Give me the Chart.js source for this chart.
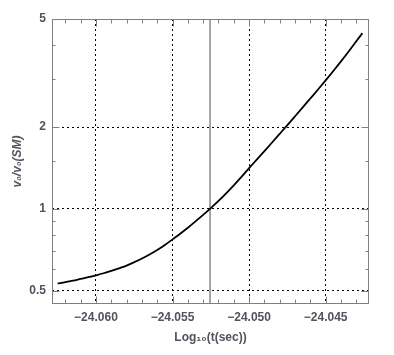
<!DOCTYPE html>
<html><head><meta charset="utf-8">
<script src="https://cdn.jsdelivr.net/npm/chart.js@4.4.0/dist/chart.umd.min.js"></script>
<style>html,body{margin:0;padding:0;background:#fff}#wrap{width:394px;height:355px;position:relative}</style>
</head><body><div id="wrap"><canvas id="c"></canvas></div>
<script>
const logTime = [-24.0625,-24.0620,-24.0615,-24.0610,-24.0605,-24.0600,-24.0595,-24.0590,-24.0585,-24.0580,
  -24.0575,-24.0570,-24.0565,-24.0560,-24.0555,-24.0550,-24.0545,-24.0540,-24.0535,-24.0530,
  -24.0525,-24.0520,-24.0515,-24.0510,-24.0505,-24.0500,-24.0495,-24.0490,-24.0485,-24.0480,
  -24.0475,-24.0470,-24.0465,-24.0460,-24.0455,-24.0450,-24.0445,-24.0440,-24.0435,-24.0430,-24.0426];
const ratio = [0.532,0.538,0.545,0.553,0.561,0.570,0.580,0.592,0.605,0.619,
  0.637,0.657,0.680,0.706,0.737,0.773,0.811,0.853,0.900,0.951,
  1.007,1.070,1.142,1.222,1.312,1.413,1.519,1.633,1.756,1.890,
  2.035,2.193,2.364,2.550,2.751,2.972,3.218,3.491,3.798,4.140,4.436];
const xTicks = [-24.060,-24.055,-24.050,-24.045];
const xMinorTicks = [-24.062,-24.061,-24.059,-24.058,-24.057,-24.056,-24.054,-24.053,-24.052,-24.051,-24.049,-24.048,-24.047,-24.046,-24.044,-24.043];
const yTicks = [0.5,1,2,5];
const yMinorTicks = [0.6,0.7,0.8,0.9,1.5,3,4];
const markerTime = -24.05255;
const xRange = [-24.06287,-24.04217];
const yRange = [0.447,5];

const labelColor = '#52535d';
const frameColor = '#808080';

const framePlugin = {
  id: 'frame',
  afterDraw(chart) {
    const {ctx, chartArea: a, scales: {x, y}} = chart;
    ctx.save();
    ctx.strokeStyle = frameColor;
    ctx.lineWidth = 1;
    const L = Math.round(a.left) + 0.5, R = Math.round(a.right) - 0.5;
    const T = Math.round(a.top) + 0.5, B = Math.round(a.bottom) - 0.5;
    ctx.strokeRect(L, T, R - L, B - T);
    ctx.beginPath();
    const tx = (v, len) => {
      const p = Math.round(x.getPixelForValue(v)) + 0.5;
      ctx.moveTo(p, B); ctx.lineTo(p, B - len);
      ctx.moveTo(p, T); ctx.lineTo(p, T + len);
    };
    const ty = (v, len) => {
      const p = Math.round(y.getPixelForValue(v)) + 0.5;
      ctx.moveTo(L, p); ctx.lineTo(L + len, p);
      ctx.moveTo(R, p); ctx.lineTo(R - len, p);
    };
    xTicks.forEach(v => tx(v, 7));
    xMinorTicks.forEach(v => tx(v, 4));
    yTicks.forEach(v => ty(v, 7));
    yMinorTicks.forEach(v => ty(v, 3));
    ctx.stroke();
    ctx.restore();
  }
};

new Chart(document.getElementById('c'), {
  type: 'line',
  data: {
    datasets: [
      {
        data: logTime.map((t, i) => ({x: t, y: ratio[i]})),
        borderColor: '#000', borderWidth: 1.8, pointRadius: 0,
        cubicInterpolationMode: 'monotone', fill: false
      },
      {
        data: [{x: markerTime, y: yRange[0]}, {x: markerTime, y: yRange[1]}],
        borderColor: '#3c3c3c', borderWidth: 0.9, pointRadius: 0, fill: false
      }
    ]
  },
  plugins: [framePlugin],
  options: {
    responsive: true, maintainAspectRatio: false, animation: false,
    layout: {padding: {left: 0, right: 25, top: 19, bottom: 0}},
    plugins: {legend: {display: false}, tooltip: {enabled: false}},
    scales: {
      x: {
        type: 'linear', min: xRange[0], max: xRange[1],
        afterBuildTicks: s => { s.ticks = xTicks.map(v => ({value: v})); },
        afterFit: s => { s.height = 51; },
        border: {display: false, dash: [2, 3]},
        grid: {color: '#000', lineWidth: 1, drawTicks: false},
        ticks: {
          padding: 6, color: labelColor, maxRotation: 0, autoSkip: false,
          font: {family: 'Liberation Sans, Arial, sans-serif', size: 12, weight: 'bold'},
          callback: v => '\u2212' + Math.abs(v).toFixed(3)
        },
        title: {
          display: true, text: 'Log\u2081\u2080(t(sec))', color: labelColor,
          font: {family: 'Liberation Sans, Arial, sans-serif', size: 12, weight: 'bold'},
          padding: {top: 0, bottom: 10}
        }
      },
      y: {
        type: 'logarithmic', min: yRange[0], max: yRange[1],
        afterBuildTicks: s => { s.ticks = yTicks.map(v => ({value: v})); },
        afterFit: s => { s.width = 52; },
        border: {display: false, dash: [2, 3]},
        grid: {color: '#000', lineWidth: 1, drawTicks: false},
        ticks: {
          padding: 6, color: labelColor, autoSkip: false,
          font: {family: 'Liberation Sans, Arial, sans-serif', size: 12, weight: 'bold'},
          callback: v => String(v)
        },
        title: {
          display: true, text: 'v\u2080/v\u2080(SM)', color: labelColor,
          font: {family: 'Liberation Sans, Arial, sans-serif', size: 12, weight: 'bold', style: 'italic'},
          padding: {top: 10, bottom: 0}
        }
      }
    }
  }
});
</script>
</body></html>
